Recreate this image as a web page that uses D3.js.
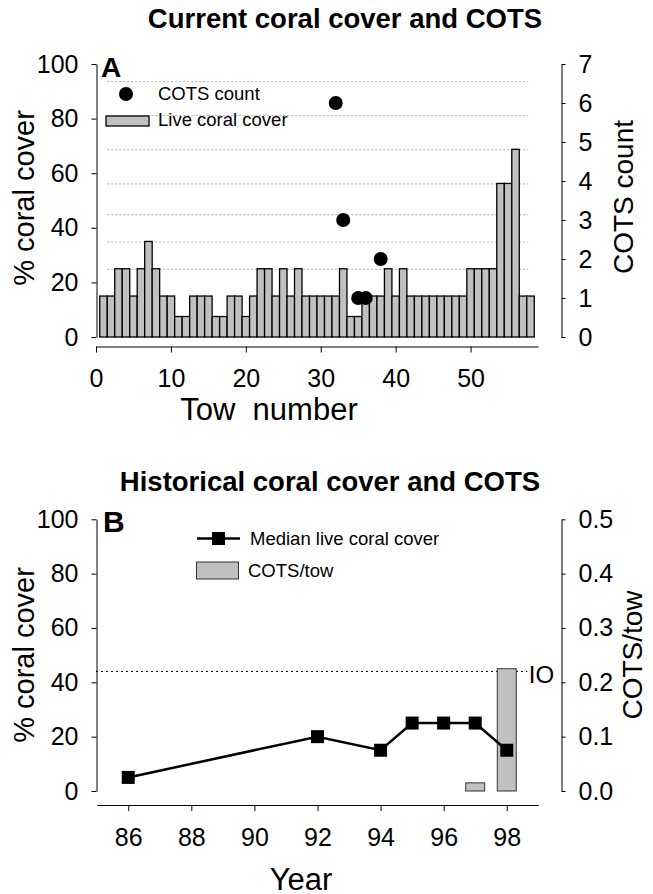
<!DOCTYPE html>
<html>
<head>
<meta charset="utf-8">
<script src="https://cdn.jsdelivr.net/npm/d3@7"></script>
<style>
  body { margin: 0; background: #fff; }
  svg text { font-family: "Liberation Sans", Arial, sans-serif; fill: #000; }
</style>
</head>
<body>
<svg width="653" height="894"></svg>
<script>
// Panel A: live coral cover (%) per tow, and COTS counts
const towCover = [15, 15, 25, 25, 15, 25, 35, 25, 15, 15, 7.5, 7.5, 15, 15, 15, 7.5, 7.5, 15, 15, 7.5,
	15, 25, 25, 15, 25, 15, 25, 15, 15, 15, 15, 15, 25, 7.5, 7.5, 15, 15, 15, 25, 15,
	25, 15, 15, 15, 15, 15, 15, 15, 15, 25, 25, 25, 25, 56.25, 56.25, 68.75, 15, 15]
const cotsTows = [32, 33, 35, 36, 38]
const cotsCounts = [6, 3, 1, 1, 2]
const coverClasses = [25, 35, 45, 56.25, 68.75, 81.25, 93.75]

// Panel B: historical medians and COTS per tow
const years = [86, 92, 94, 95, 96, 97, 98]
const medianCover = [5, 20, 15, 25, 25, 25, 15]
const cotsYears = [97, 98]
const cotsPerTow = [0.015, 0.225]
const ioThreshold = 0.22

const xTicksA = [0, 10, 20, 30, 40, 50]
const yTicksA = [0, 20, 40, 60, 80, 100]
const y2TicksA = [0, 1, 2, 3, 4, 5, 6, 7]
const xTicksB = [86, 88, 90, 92, 94, 96, 98]
const yTicksB = [0, 20, 40, 60, 80, 100]
const y2TicksB = [0, 0.1, 0.2, 0.3, 0.4, 0.5]

const svg = d3.select("svg")
const grey = "#c0c0c0"

let styleAxis = function (g) {
	g.selectAll("path, line").attr("stroke", "#000").attr("stroke-width", 1)
	g.selectAll("text").attr("font-size", 25).attr("font-family", "Liberation Sans, Arial, sans-serif")
}

// ---------- Panel A ----------
const xA = d3.scaleLinear().domain([0, 59]).range([96, 538])
const yA = d3.scaleLinear().domain([0, 100]).range([337, 64])
const yA2 = d3.scaleLinear().domain([0, 7]).range([337, 64])

svg.append("text")
	.attr("x", 345).attr("y", 28)
	.attr("text-anchor", "middle")
	.attr("font-size", 27.5).attr("font-weight", "bold")
	.text("Current coral cover and COTS")

// dotted class lines behind bars
svg.append("g")
	.selectAll("line")
	.data(coverClasses)
	.join("line")
	.attr("x1", xA(1.5)).attr("x2", xA(57.7))
	.attr("y1", d => yA(d) + 0.5).attr("y2", d => yA(d) + 0.5)
	.attr("stroke", "#aaa")
	.attr("stroke-dasharray", "2,2")

svg.append("g")
	.selectAll("rect")
	.data(towCover)
	.join("rect")
	.attr("x", (d, i) => xA(i + 0.5))
	.attr("width", xA(1) - xA(0))
	.attr("y", d => yA(d))
	.attr("height", d => yA(0) - yA(d))
	.attr("fill", grey)
	.attr("stroke", "#000")
	.attr("stroke-width", 1.3)

svg.append("g")
	.selectAll("circle")
	.data(cotsTows)
	.join("circle")
	.attr("cx", d => xA(d))
	.attr("cy", (d, i) => yA2(cotsCounts[i]))
	.attr("r", 7)
	.attr("fill", "#000")

svg.append("g")
	.attr("transform", "translate(0,346.5)")
	.call(d3.axisBottom(xA).tickValues(xTicksA).tickSize(6).tickSizeOuter(0).tickPadding(17))
	.call(styleAxis)

svg.append("g")
	.attr("transform", "translate(96.5,0)")
	.call(d3.axisLeft(yA).tickValues(yTicksA).tickSize(5).tickSizeOuter(0).tickPadding(13))
	.call(styleAxis)

svg.append("g")
	.attr("transform", "translate(561.5,0)")
	.call(d3.axisRight(yA2).tickValues(y2TicksA).tickSize(4).tickSizeOuter(0).tickPadding(13).tickFormat(d3.format("d")))
	.call(styleAxis)

svg.append("text")
	.attr("x", 101).attr("y", 77)
	.attr("font-size", 28).attr("font-weight", "bold")
	.text("A")

// legend A
svg.append("circle").attr("cx", 126).attr("cy", 94).attr("r", 7).attr("fill", "#000")
svg.append("text").attr("x", 158).attr("y", 100).attr("font-size", 18.5).text("COTS count")
svg.append("rect").attr("x", 106).attr("y", 116).attr("width", 43).attr("height", 10)
	.attr("fill", grey).attr("stroke", "#000").attr("stroke-width", 1.3)
svg.append("text").attr("x", 158).attr("y", 126).attr("font-size", 18.5).text("Live coral cover")

svg.append("text")
	.attr("transform", "translate(34,198) rotate(-90)")
	.attr("text-anchor", "middle")
	.attr("font-size", 29)
	.text("% coral cover")

svg.append("text")
	.attr("transform", "translate(633,197) rotate(-90)")
	.attr("text-anchor", "middle")
	.attr("font-size", 28)
	.text("COTS count")

svg.append("text")
	.attr("x", 269).attr("y", 420)
	.attr("text-anchor", "middle")
	.attr("font-size", 31)
	.attr("xml:space", "preserve")
	.style("white-space", "pre")
	.text("Tow  number")

// ---------- Panel B ----------
const xB = d3.scaleLinear().domain([85, 99]).range([96.7, 538.3])
const yB = d3.scaleLinear().domain([0, 100]).range([791, 519.3])
const yB2 = d3.scaleLinear().domain([0, 0.5]).range([791, 519.3])

svg.append("text")
	.attr("x", 330).attr("y", 491)
	.attr("text-anchor", "middle")
	.attr("font-size", 27.5).attr("font-weight", "bold")
	.text("Historical coral cover and COTS")

svg.append("line")
	.attr("x1", 96).attr("x2", xB(98.65))
	.attr("y1", yB2(ioThreshold)).attr("y2", yB2(ioThreshold))
	.attr("stroke", "#000")
	.attr("stroke-dasharray", "2,3")

svg.append("text")
	.attr("x", xB(98.7)).attr("y", 683)
	.attr("font-size", 24)
	.text("IO")

svg.append("g")
	.selectAll("rect")
	.data(cotsYears)
	.join("rect")
	.attr("x", d => xB(d - 0.3))
	.attr("width", xB(0.6) - xB(0))
	.attr("y", (d, i) => yB2(cotsPerTow[i]))
	.attr("height", (d, i) => yB2(0) - yB2(cotsPerTow[i]))
	.attr("fill", grey)
	.attr("stroke", "#333")
	.attr("stroke-width", 1)

const line = d3.line()
	.x((d, i) => xB(years[i]))
	.y(d => yB(d))

svg.append("path")
	.datum(medianCover)
	.attr("d", line)
	.attr("fill", "none")
	.attr("stroke", "#000")
	.attr("stroke-width", 2.5)

svg.append("g")
	.selectAll("rect")
	.data(medianCover)
	.join("rect")
	.attr("x", (d, i) => xB(years[i]) - 6.5)
	.attr("y", d => yB(d) - 6.5)
	.attr("width", 13).attr("height", 13)
	.attr("fill", "#000")

svg.append("g")
	.attr("transform", "translate(0,805)")
	.call(d3.axisBottom(xB).tickValues(xTicksB).tickSize(6).tickSizeOuter(0).tickPadding(17))
	.call(styleAxis)

svg.append("g")
	.attr("transform", "translate(96.5,0)")
	.call(d3.axisLeft(yB).tickValues(yTicksB).tickSize(5).tickSizeOuter(0).tickPadding(13))
	.call(styleAxis)

svg.append("g")
	.attr("transform", "translate(561.5,0)")
	.call(d3.axisRight(yB2).tickValues(y2TicksB).tickSize(4).tickSizeOuter(0).tickPadding(13).tickFormat(d3.format(".1f")))
	.call(styleAxis)

svg.append("text")
	.attr("x", 103).attr("y", 532)
	.attr("font-size", 30).attr("font-weight", "bold")
	.text("B")

// legend B
svg.append("line").attr("x1", 197).attr("x2", 240).attr("y1", 538.5).attr("y2", 538.5)
	.attr("stroke", "#000").attr("stroke-width", 2.5)
svg.append("rect").attr("x", 212).attr("y", 532).attr("width", 13).attr("height", 13).attr("fill", "#000")
svg.append("text").attr("x", 250).attr("y", 545).attr("font-size", 18.5).text("Median live coral cover")
svg.append("rect").attr("x", 196.5).attr("y", 562).attr("width", 42).attr("height", 17)
	.attr("fill", grey).attr("stroke", "#333").attr("stroke-width", 1)
svg.append("text").attr("x", 248).attr("y", 577).attr("font-size", 18.5).text("COTS/tow")

svg.append("text")
	.attr("transform", "translate(34,655) rotate(-90)")
	.attr("text-anchor", "middle")
	.attr("font-size", 29)
	.text("% coral cover")

svg.append("text")
	.attr("transform", "translate(642,655) rotate(-90)")
	.attr("text-anchor", "middle")
	.attr("font-size", 28)
	.text("COTS/tow")

svg.append("text")
	.attr("x", 301).attr("y", 890)
	.attr("text-anchor", "middle")
	.attr("font-size", 31)
	.text("Year")
</script>
</body>
</html>
